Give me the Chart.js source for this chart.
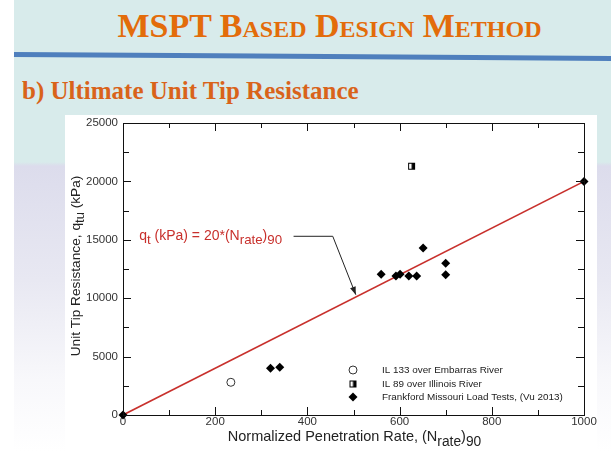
<!DOCTYPE html>
<html>
<head>
<meta charset="utf-8">
<script src="https://cdn.jsdelivr.net/npm/chart.js@4.4.1/dist/chart.umd.min.js"></script>
<style>
  body { margin: 0; width: 611px; height: 452px; overflow: hidden; background: #fff; position: relative; }
  .slide {
    position: absolute; left: 14px; top: 0; width: 597px; height: 452px;
    background: linear-gradient(to bottom, #d8ebeb 0, #d8ebeb 162px, #dcdcec 166px, #e8e8f2 280px, #f8f8fb 380px, #fff 452px);
  }
  h1 {
    position: absolute; left: 48px; top: 7px; width: 563px; margin: 0;
    text-align: center; font: bold 34px "Liberation Serif", serif; font-variant: small-caps;
    color: #e36c0a; line-height: normal;
  }
  .rule {
    position: absolute; left: 14px; top: 52px; width: 600px; height: 5px; background: #4f7fbd;
    transform-origin: left center; transform: rotate(0.38deg);
  }
  h2 {
    position: absolute; left: 22px; top: 77px; margin: 0;
    font: bold 25px "Liberation Serif", serif; color: #d9631a; line-height: normal;
  }
  .plot { position: absolute; left: 65px; top: 115px; width: 532px; height: 337px; background: #fff; }
</style>
</head>
<body>
<div class="slide"></div>
<h1>MSPT Based Design Method</h1>
<div class="rule"></div>
<h2>b) Ultimate Unit Tip Resistance</h2>
<div class="plot"><canvas id="tipChart" width="532" height="337"></canvas></div>
<script>
const xTicks = [0, 200, 400, 600, 800, 1000];
const yTicks = [0, 5000, 10000, 15000, 20000, 25000];

// Frankford Missouri load tests
const frankX = [0, 320, 340, 560, 592, 601, 620, 637, 651, 700, 700, 1000];
const frankY = [0, 4000, 4080, 12050, 11900, 12050, 11900, 11900, 14300, 13000, 12000, 20000];
// IL 133 over Embarras River
const embX = [234];
const embY = [2800];
// IL 89 over Illinois River
const illX = [626];
const illY = [21300];
// design line q = 20 * N
const fitX = [0, 1000];
const fitY = [0, 20000];

const legendLabels = ["IL 133 over Embarras River", "IL 89 over Illinois River", "Frankford Missouri Load Tests, (Vu 2013)"];
const xTitle = [["Normalized Penetration Rate, (N", 0], ["rate", 1], [")", 0], ["90", 1]];
const yTitle = [["Unit Tip Resistance, q", 0], ["tu", 1], [" (kPa)", 0]];
const noteText = [["q", 0], ["t", 1], [" (kPa) = 20*(N", 0], ["rate", 1], [")", 0], ["90", 1]];
const noteAt = [35, 15000];
const leader = [[370, 15300], [455, 15300], [505, 10300]];

const sans = "'Liberation Sans', Arial, sans-serif";
const red = "#c8302c";

const halfSquare = document.createElement("canvas");
halfSquare.width = 9;
halfSquare.height = 9;
(function () {
  const h = halfSquare.getContext("2d");
  h.fillStyle = "#fff";
  h.fillRect(1, 1, 7, 7);
  h.fillStyle = "#000";
  h.fillRect(4.5, 1, 3.5, 7);
  h.strokeStyle = "#000";
  h.lineWidth = 1;
  h.strokeRect(1.5, 1.5, 6, 6);
})();

function toPoints(xs, ys) {
  return xs.map((x, i) => ({ x: x, y: ys[i] }));
}

function drawRich(ctx, parts, x, y, size, center) {
  let total = 0;
  parts.forEach((p) => {
    ctx.font = (p[1] ? size * 0.95 : size) + "px " + sans;
    total += ctx.measureText(p[0]).width;
  });
  let cx = center ? x - total / 2 : x;
  parts.forEach((p) => {
    ctx.font = (p[1] ? size * 0.95 : size) + "px " + sans;
    ctx.fillText(p[0], cx, y + (p[1] ? size * 0.32 : 0));
    cx += ctx.measureText(p[0]).width;
  });
}

const overlay = {
  id: "overlay",
  afterDraw(chart) {
    const ctx = chart.ctx;
    const a = chart.chartArea;
    const xs = chart.scales.x;
    const ys = chart.scales.y;
    ctx.save();

    // frame and inward ticks
    ctx.strokeStyle = "#111";
    ctx.lineWidth = 1;
    ctx.strokeRect(a.left + 0.5, a.top + 0.5, a.right - a.left, a.bottom - a.top);
    ctx.beginPath();
    for (let v = 0; v <= 1000; v += 100) {
      const px = Math.round(xs.getPixelForValue(v)) + 0.5;
      const len = v % 200 ? 5 : 8;
      ctx.moveTo(px, a.bottom);
      ctx.lineTo(px, a.bottom - len);
      ctx.moveTo(px, a.top);
      ctx.lineTo(px, a.top + len);
    }
    for (let v = 0; v <= 25000; v += 2500) {
      const py = Math.round(ys.getPixelForValue(v)) + 0.5;
      const len = v % 5000 ? 6 : 8;
      ctx.moveTo(a.left, py);
      ctx.lineTo(a.left + len, py);
      ctx.moveTo(a.right, py);
      ctx.lineTo(a.right - len, py);
    }
    ctx.stroke();

    // axis titles
    ctx.fillStyle = "#222";
    ctx.textBaseline = "alphabetic";
    drawRich(ctx, xTitle, (a.left + a.right) / 2 + 1, 326, 14.5, true);
    ctx.save();
    ctx.translate(15, (a.top + a.bottom) / 2 - 3);
    ctx.rotate(-Math.PI / 2);
    drawRich(ctx, yTitle, 0, 0, 13.7, true);
    ctx.restore();

    // note and leader arrow
    ctx.fillStyle = red;
    drawRich(ctx, noteText, xs.getPixelForValue(noteAt[0]), ys.getPixelForValue(noteAt[1]), 14, false);
    const pts = leader.map((p) => [xs.getPixelForValue(p[0]), ys.getPixelForValue(p[1])]);
    ctx.strokeStyle = "#222";
    ctx.beginPath();
    ctx.moveTo(pts[0][0], pts[0][1]);
    ctx.lineTo(pts[1][0], pts[1][1]);
    ctx.lineTo(pts[2][0], pts[2][1]);
    ctx.stroke();
    const ang = Math.atan2(pts[2][1] - pts[1][1], pts[2][0] - pts[1][0]);
    ctx.fillStyle = "#222";
    ctx.beginPath();
    ctx.moveTo(pts[2][0], pts[2][1]);
    ctx.lineTo(pts[2][0] - 8 * Math.cos(ang) + 3 * Math.sin(ang), pts[2][1] - 8 * Math.sin(ang) - 3 * Math.cos(ang));
    ctx.lineTo(pts[2][0] - 8 * Math.cos(ang) - 3 * Math.sin(ang), pts[2][1] - 8 * Math.sin(ang) + 3 * Math.cos(ang));
    ctx.closePath();
    ctx.fill();

    // legend
    const lx = a.left + 230;
    const rows = [a.top + 247, a.top + 261, a.top + 274];
    ctx.lineWidth = 1;
    ctx.strokeStyle = "#333";
    ctx.fillStyle = "#fff";
    ctx.beginPath();
    ctx.arc(lx, rows[0], 4, 0, Math.PI * 2);
    ctx.fill();
    ctx.stroke();
    ctx.drawImage(halfSquare, lx - 4.5, rows[1] - 4.5);
    ctx.fillStyle = "#000";
    ctx.beginPath();
    ctx.moveTo(lx, rows[2] - 4.5);
    ctx.lineTo(lx + 4.5, rows[2]);
    ctx.lineTo(lx, rows[2] + 4.5);
    ctx.lineTo(lx - 4.5, rows[2]);
    ctx.closePath();
    ctx.fill();
    ctx.fillStyle = "#222";
    ctx.font = "9.9px " + sans;
    ctx.textBaseline = "middle";
    legendLabels.forEach((t, i) => ctx.fillText(t, lx + 29, rows[i]));

    ctx.restore();
  },
};

new Chart("tipChart", {
  type: "scatter",
  data: {
    datasets: [
      {
        data: toPoints(frankX, frankY),
        pointStyle: "rectRot",
        pointRadius: 4.5,
        backgroundColor: "#000",
        borderColor: "#000",
        borderWidth: 0,
        clip: false,
      },
      {
        data: toPoints(illX, illY),
        pointStyle: halfSquare,
        clip: false,
      },
      {
        data: toPoints(embX, embY),
        pointStyle: "circle",
        pointRadius: 4,
        backgroundColor: "#fff",
        borderColor: "#333",
        borderWidth: 1,
        clip: false,
      },
      {
        type: "line",
        data: toPoints(fitX, fitY),
        borderColor: red,
        borderWidth: 1.6,
        pointRadius: 0,
        fill: false,
      },
    ],
  },
  options: {
    responsive: false,
    animation: false,
    events: [],
    layout: { padding: { left: 0, top: 8, right: 13, bottom: 0 } },
    plugins: { legend: { display: false }, tooltip: { enabled: false } },
    scales: {
      x: {
        type: "linear",
        min: 0,
        max: 1000,
        afterBuildTicks: (s) => { s.ticks = xTicks.map((v) => ({ value: v })); },
        afterFit: (s) => {
          s.height = 37;
          s.paddingLeft = 0;
          s.paddingRight = 0;
        },
        ticks: { font: { size: 11.5, family: sans }, color: "#333", padding: 0, maxRotation: 0, callback: (v) => String(v) },
        grid: { display: false, drawTicks: false },
        border: { display: false },
      },
      y: {
        type: "linear",
        min: 0,
        max: 25000,
        afterBuildTicks: (s) => { s.ticks = yTicks.map((v) => ({ value: v })); },
        afterFit: (s) => {
          s.width = 58;
          s.paddingTop = 0;
          s.paddingBottom = 0;
        },
        ticks: { font: { size: 11.5, family: sans }, color: "#333", padding: 5, callback: (v) => String(v) },
        grid: { display: false, drawTicks: false },
        border: { display: false },
      },
    },
  },
  plugins: [overlay],
});
</script>
</body>
</html>
